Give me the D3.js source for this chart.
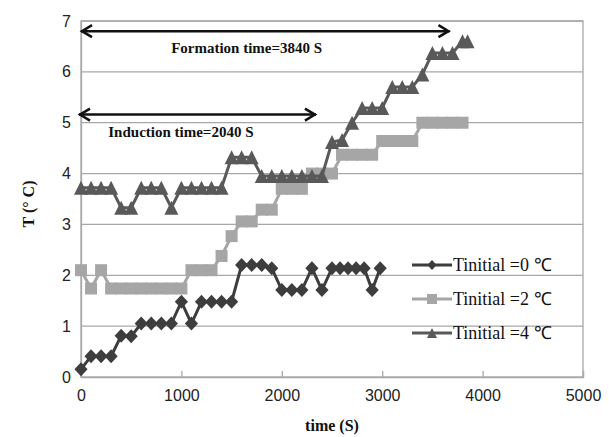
<!DOCTYPE html>
<html lang="en">
<head>
  <meta charset="UTF-8" />
  <title>T vs time</title>
  <script src="https://d3js.org/d3.v7.min.js"></script>
  <style>
    body { margin: 0; background: #fff; }
    svg { display: block; }
    .tick text { font-family: "Liberation Sans", Arial, sans-serif; font-size: 16px; fill: #222; }
    .axis-title, .note { font-family: "Liberation Serif", "Times New Roman", serif; font-weight: bold; fill: #111; }
    .legend text { font-family: "Liberation Serif", "Times New Roman", serif; font-size: 18px; fill: #111; }
  </style>
</head>
<body>
  <svg width="609" height="437"></svg>

  <script>
    // Tinitial = 0 C (diamonds)
    const time0 = [0, 100, 200, 300, 400, 500, 600, 700, 800, 900, 1000, 1100, 1200, 1300, 1400, 1500,
      1600, 1700, 1800, 1900, 2000, 2100, 2200, 2300, 2400, 2500, 2580, 2660, 2740, 2820, 2900, 2980];
    const temp0 = [0.15, 0.41, 0.41, 0.41, 0.81, 0.8, 1.05, 1.05, 1.05, 1.05, 1.48, 1.05, 1.48, 1.48, 1.48, 1.48,
      2.2, 2.2, 2.2, 2.14, 1.71, 1.71, 1.71, 2.14, 1.71, 2.14, 2.14, 2.14, 2.14, 2.14, 1.71, 2.14];

    // Tinitial = 2 C (squares)
    const time2 = [0, 100, 200, 300, 400, 500, 600, 700, 800, 900, 1000, 1100, 1200, 1300, 1400, 1500,
      1600, 1700, 1800, 1900, 2000, 2100, 2200, 2300, 2400, 2500, 2600, 2700, 2800, 2900, 3000, 3100,
      3200, 3300, 3400, 3500, 3600, 3700, 3800];
    const temp2 = [2.1, 1.74, 2.1, 1.74, 1.74, 1.74, 1.74, 1.74, 1.74, 1.74, 1.74, 2.1, 2.1, 2.1, 2.38, 2.77,
      3.06, 3.06, 3.29, 3.29, 3.7, 3.7, 3.7, 4.0, 4.0, 4.0, 4.37, 4.37, 4.37, 4.37, 4.64, 4.64,
      4.64, 4.64, 5.0, 5.0, 5.0, 5.0, 5.0];

    // Tinitial = 4 C (triangles)
    const time4 = [0, 100, 200, 300, 400, 500, 600, 700, 800, 900, 1000, 1100, 1200, 1300, 1400, 1500,
      1600, 1700, 1800, 1900, 2000, 2100, 2200, 2300, 2400, 2500, 2600, 2700, 2800, 2900, 3000, 3100,
      3200, 3300, 3400, 3500, 3600, 3700, 3800, 3850];
    const temp4 = [3.72, 3.72, 3.72, 3.72, 3.33, 3.33, 3.72, 3.72, 3.72, 3.33, 3.72, 3.72, 3.72, 3.72, 3.72, 4.32,
      4.32, 4.32, 3.95, 3.95, 3.95, 3.95, 3.95, 3.95, 3.95, 4.62, 4.66, 5.0, 5.29, 5.29, 5.29, 5.7,
      5.7, 5.7, 5.95, 6.37, 6.37, 6.37, 6.6, 6.6];

    const xTicks = [0, 1000, 2000, 3000, 4000, 5000];
    const yTicks = [0, 1, 2, 3, 4, 5, 6, 7];
    const legendLabels = ["Tinitial =0 \u2103", "Tinitial =2 \u2103", "Tinitial =4 \u2103"];

    const svg = d3.select("svg");
    const margin = { top: 21, right: 26, bottom: 60, left: 81 };
    const width = +svg.attr("width") - margin.left - margin.right;
    const height = +svg.attr("height") - margin.top - margin.bottom;
    const g = svg.append("g").attr("transform", `translate(${margin.left},${margin.top})`);

    const x = d3.scaleLinear().domain([0, 5000]).range([0, width]);
    const y = d3.scaleLinear().domain([0, 7]).range([height, 0]);

    // gridlines
    g.append("g")
      .selectAll("line")
      .data(yTicks.slice(1))
      .join("line")
      .attr("x1", 0).attr("x2", width)
      .attr("y1", d => y(d)).attr("y2", d => y(d))
      .attr("stroke", "#a8a8a8")
      .attr("stroke-width", 1.3);

    // plot frame
    g.append("rect")
      .attr("width", width).attr("height", height)
      .attr("fill", "none")
      .attr("stroke", "#a8a8a8")
      .attr("stroke-width", 1.3);

    const xAxis = g.append("g")
      .attr("transform", `translate(0,${height})`)
      .call(d3.axisBottom(x).tickValues(xTicks).tickSize(-6).tickPadding(13).tickFormat(d3.format("d")));
    xAxis.select(".domain").attr("stroke", "#a8a8a8").attr("stroke-width", 1.3);
    xAxis.selectAll(".tick line").attr("stroke", "#a8a8a8").attr("stroke-width", 1.3);

    const yAxis = g.append("g")
      .call(d3.axisLeft(y).tickValues(yTicks).tickSize(0).tickPadding(10).tickFormat(d3.format("d")));
    yAxis.select(".domain").attr("stroke", "#a8a8a8").attr("stroke-width", 1.3);

    // axis titles
    svg.append("text")
      .attr("class", "axis-title")
      .attr("x", margin.left + width / 2)
      .attr("y", 431)
      .attr("text-anchor", "middle")
      .attr("font-size", 16)
      .text("time (S)");

    svg.append("text")
      .attr("class", "axis-title")
      .attr("transform", "translate(34,204) rotate(-90)")
      .attr("text-anchor", "middle")
      .attr("font-size", 16)
      .text("T (\u00b0 C)");

    // markers
    const diamond = s => `M0,${-s / 2}L${s * 0.47},0L0,${s / 2}L${-s * 0.47},0Z`;
    const square = s => `M${-s / 2},${-s / 2}h${s}v${s}h${-s}Z`;
    const triangle = s => `M0,${-s / 2}L${s * 0.5},${s / 2}L${-s * 0.5},${s / 2}Z`;

    const series = [
      { time: time0, temp: temp0, color: "#3d3d3d", shape: diamond, size: 14 },
      { time: time2, temp: temp2, color: "#a6a6a6", shape: square, size: 12 },
      { time: time4, temp: temp4, color: "#595959", shape: triangle, size: 14 }
    ];

    const line = d3.line().x(d => x(d[0])).y(d => y(d[1]));

    // draw in order: squares, triangles, diamonds
    [1, 2, 0].forEach(i => {
      const s = series[i];
      const pts = s.time.map((t, j) => [t, s.temp[j]]);
      g.append("path")
        .datum(pts)
        .attr("d", line)
        .attr("fill", "none")
        .attr("stroke", s.color)
        .attr("stroke-width", 3);
      g.append("g")
        .selectAll("path")
        .data(pts)
        .join("path")
        .attr("transform", d => `translate(${x(d[0])},${y(d[1])})`)
        .attr("d", s.shape(s.size))
        .attr("fill", s.color);
    });

    // annotation arrows
    const arrow = (t1, t2, v) => {
      const a = g.append("g").attr("stroke", "#111").attr("stroke-width", 2.5).attr("fill", "none");
      const x1 = x(t1), x2 = x(t2), yy = y(v);
      a.append("line").attr("x1", x1).attr("x2", x2).attr("y1", yy).attr("y2", yy);
      a.append("path").attr("d", `M${x1 + 11},${yy - 6}L${x1 + 1},${yy}L${x1 + 11},${yy + 6}`);
      a.append("path").attr("d", `M${x2 - 11},${yy - 6}L${x2 - 1},${yy}L${x2 - 11},${yy + 6}`);
    };
    arrow(0, 3670, 6.8);
    arrow(-20, 2340, 5.16);

    g.append("text").attr("class", "note")
      .attr("x", x(1650)).attr("y", y(6.48)).attr("dy", "0.35em")
      .attr("text-anchor", "middle").attr("font-size", 15)
      .text("Formation time=3840 S");
    g.append("text").attr("class", "note")
      .attr("x", x(995)).attr("y", y(4.83)).attr("dy", "0.35em")
      .attr("text-anchor", "middle").attr("font-size", 15)
      .text("Induction time=2040 S");

    // legend
    const legend = svg.append("g").attr("class", "legend").attr("transform", "translate(412,265)");
    const rows = legend.selectAll("g")
      .data(series)
      .join("g")
      .attr("transform", (d, i) => `translate(0,${i * 34})`);
    rows.append("line")
      .attr("x1", 0).attr("x2", 40)
      .attr("stroke", d => d.color)
      .attr("stroke-width", 3);
    rows.append("path")
      .attr("transform", "translate(20,0)")
      .attr("d", d => d.shape(10))
      .attr("fill", d => d.color);
    rows.append("text")
      .attr("x", 41)
      .attr("dy", "0.35em")
      .text((d, i) => legendLabels[i]);
  </script>
</body>
</html>
